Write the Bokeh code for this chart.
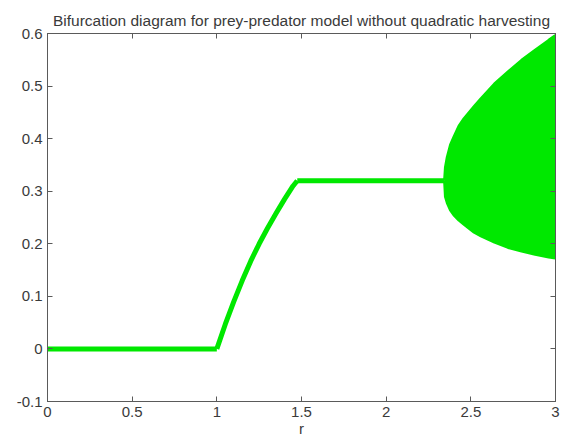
from bokeh.plotting import figure
from bokeh.models import Range1d, LinearAxis, FixedTicker
from bokeh.embed import file_html
from bokeh.resources import INLINE

# ---- data ----
x_ticks = [0, 0.5, 1, 1.5, 2, 2.5, 3]
x_tick_labels = ["0", "0.5", "1", "1.5", "2", "2.5", "3"]
y_ticks = [-0.1, 0, 0.1, 0.2, 0.3, 0.4, 0.5, 0.6]
y_tick_labels = ["-0.1", "0", "0.1", "0.2", "0.3", "0.4", "0.5", "0.6"]

r_zero = [0.0, 0.5, 1.0]
y_zero = [0.0, 0.0, 0.0]

r_rise = [1.0, 1.05, 1.1, 1.15, 1.2, 1.25, 1.3, 1.35, 1.4, 1.45, 1.475]
y_rise = [0.0, 0.047, 0.09, 0.13, 0.167, 0.2, 0.23, 0.258, 0.285, 0.31, 0.32]

r_flat = [1.475, 2.0, 2.345]
y_flat = [0.32, 0.32, 0.32]

r_env = [2.345, 2.35, 2.361, 2.38, 2.40, 2.43, 2.46, 2.52, 2.56, 2.64, 2.72, 2.80, 2.88, 2.96, 3.0]
y_upper = [0.32, 0.345, 0.365, 0.388, 0.403, 0.424, 0.438, 0.461, 0.476, 0.504, 0.527, 0.549, 0.568, 0.587, 0.596]
y_lower = [0.32, 0.29, 0.278, 0.264, 0.255, 0.245, 0.237, 0.222, 0.215, 0.203, 0.193, 0.186, 0.180, 0.175, 0.173]

GREEN = "#00e800"
TXT = "#3a3a3a"
AX = "#5a5a5a"
FONT = "Liberation Sans"

p = figure(width=561, height=439, output_backend="svg", toolbar_location=None,
           x_range=Range1d(0, 3), y_range=Range1d(-0.1, 0.6),
           min_border_left=47, min_border_right=6, min_border_top=33,
           min_border_bottom=37)

p.title.text = "Bifurcation diagram for prey-predator model without quadratic harvesting"
p.title.align = "center"
p.title.text_font = FONT
p.title.text_font_size = "15.5px"
p.title.text_font_style = "normal"
p.title.text_color = TXT
p.title.standoff = 9
p.title.offset = 0

p.grid.visible = False
p.outline_line_color = AX
p.outline_line_width = 1
p.background_fill_color = "white"
p.border_fill_color = "white"

def style_axis(ax, labels=True):
    ax.axis_line_color = AX
    ax.major_tick_line_color = AX
    ax.minor_tick_line_color = None
    ax.major_tick_in = 5
    ax.major_tick_out = 0
    ax.major_label_text_font = FONT
    if labels:
        ax.major_label_text_color = TXT
        ax.major_label_text_font_size = "15px"
        ax.major_label_standoff = 5
    else:
        ax.major_label_text_color = None
        ax.major_label_text_font_size = "1px"
        ax.major_label_standoff = 0

p.xaxis.ticker = FixedTicker(ticks=x_ticks)
p.xaxis.major_label_overrides = dict(zip(x_ticks, x_tick_labels))
p.yaxis.ticker = FixedTicker(ticks=y_ticks)
p.yaxis.major_label_overrides = dict(zip(y_ticks, y_tick_labels))
style_axis(p.xaxis[0])
style_axis(p.yaxis[0])
p.xaxis.axis_label = "r"
p.xaxis.axis_label_text_font = FONT
p.xaxis.axis_label_text_font_size = "15px"
p.xaxis.axis_label_text_font_style = "normal"
p.xaxis.axis_label_text_color = TXT
p.xaxis.axis_label_standoff = 0

top = LinearAxis(ticker=FixedTicker(ticks=x_ticks))
style_axis(top, labels=False)
p.add_layout(top, "above")
right = LinearAxis(ticker=FixedTicker(ticks=y_ticks))
style_axis(right, labels=False)
p.add_layout(right, "right")

# data
p.varea(x=r_env, y1=y_lower, y2=y_upper, fill_color=GREEN)
p.line(r_env, y_upper, line_color=GREEN, line_width=3, line_join="round")
p.line(r_env, y_lower, line_color=GREEN, line_width=3, line_join="round")
p.line(r_zero, y_zero, line_color=GREEN, line_width=5)
p.line(r_rise, y_rise, line_color=GREEN, line_width=5, line_join="round")
p.line(r_flat, y_flat, line_color=GREEN, line_width=5)

open("out.html", "w").write(file_html(p, INLINE))
